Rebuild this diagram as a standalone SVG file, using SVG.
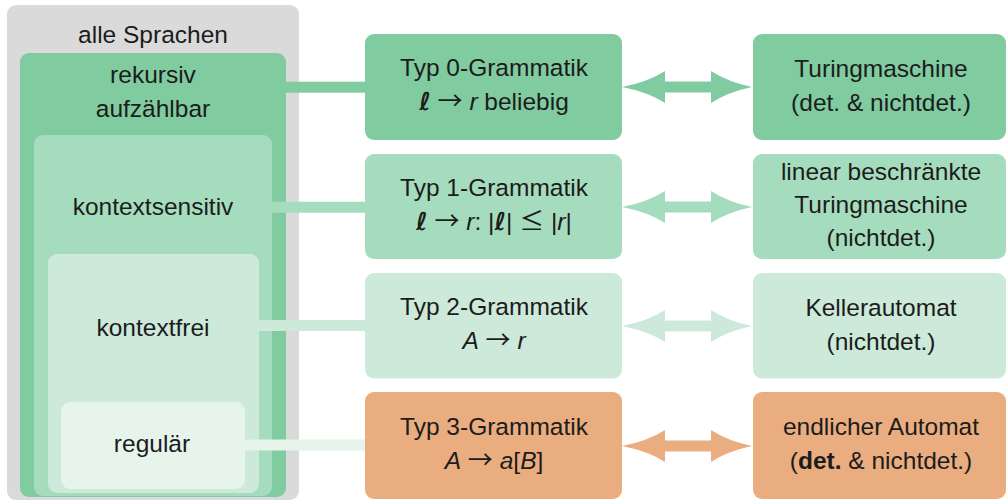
<svg xmlns="http://www.w3.org/2000/svg" width="1007" height="502" viewBox="0 0 1007 502">
<style>
text{font-family:"Liberation Sans",Arial,sans-serif;font-size:24.5px;fill:#1c1c1c;text-anchor:middle}
.i{font-style:italic}
.m{font-family:"Noto Sans CJK JP","DejaVu Sans",sans-serif;font-size:25px}
.l{font-family:"DejaVu Sans",sans-serif;font-style:italic;font-weight:bold}
.c0{fill:#80cba0}.c1{fill:#a6dcbe}.c2{fill:#cce9da}.c3{fill:#e6f4ec}.co{fill:#e9ad7f}.cg{fill:#dadada}
</style>
<rect width="1007" height="502" fill="#ffffff"/>
<g id="alle-sprachen">
<rect class="cg" x="7" y="5" width="292" height="495" rx="9"/>
<text x="153" y="43">alle Sprachen</text>
</g>
<g id="rekursiv-aufzaehlbar">
<rect class="c0" x="20" y="53" width="266" height="444" rx="9"/>
<text x="153" y="83">rekursiv</text>
<text x="153" y="117">aufzählbar</text>
</g>
<g id="kontextsensitiv">
<rect class="c1" x="34" y="135" width="238" height="361" rx="9"/>
<text x="153" y="215">kontextsensitiv</text>
</g>
<g id="kontextfrei">
<rect class="c2" x="48" y="254" width="211" height="239" rx="9"/>
<text x="153" y="336">kontextfrei</text>
</g>
<g id="regulaer">
<rect class="c3" x="61" y="402" width="184" height="87" rx="9"/>
<text x="152" y="452">regulär</text>
</g>
<g id="connectors">
<rect class="c0" x="285" y="81.7" width="81" height="11"/>
<rect class="c1" x="272" y="201.7" width="94" height="11"/>
<rect class="c2" x="259" y="320" width="107" height="11"/>
<rect class="c3" x="245" y="439.5" width="121" height="11"/>
<path class="c0" d="M622 87 Q648 82 665 71 L665 81.5 L711 81.5 L711 71 Q728 82 752 87 Q728 92 711 103 L711 92.5 L665 92.5 L665 103 Q648 92 622 87 Z"/>
<path class="c1" transform="translate(0,120)" d="M622 87 Q648 82 665 71 L665 81.5 L711 81.5 L711 71 Q728 82 752 87 Q728 92 711 103 L711 92.5 L665 92.5 L665 103 Q648 92 622 87 Z"/>
<path class="c2" transform="translate(0,239)" d="M622 87 Q648 82 665 71 L665 81.5 L711 81.5 L711 71 Q728 82 752 87 Q728 92 711 103 L711 92.5 L665 92.5 L665 103 Q648 92 622 87 Z"/>
<path class="co" transform="translate(0,359)" d="M622 87 Q648 82 665 71 L665 81.5 L711 81.5 L711 71 Q728 82 752 87 Q728 92 711 103 L711 92.5 L665 92.5 L665 103 Q648 92 622 87 Z"/>
</g>
<g id="typ0">
<rect class="c0" x="365" y="34" width="257" height="106" rx="9"/>
<text x="494" y="76">Typ 0-Grammatik</text>
<text x="494" y="110"><tspan class="l">ℓ</tspan> <tspan class="m">→</tspan> <tspan class="i">r</tspan> beliebig</text>
</g>
<g id="typ1">
<rect class="c1" x="365" y="154" width="257" height="105" rx="9"/>
<text x="494" y="195.5">Typ 1-Grammatik</text>
<text x="494" y="229.5"><tspan class="l">ℓ</tspan> <tspan class="m">→</tspan> <tspan class="i">r</tspan>: |<tspan class="l">ℓ</tspan>| <tspan class="m">≤</tspan> |<tspan class="i">r</tspan>|</text>
</g>
<g id="typ2">
<rect class="c2" x="365" y="273" width="257" height="105.5" rx="9"/>
<text x="494" y="315">Typ 2-Grammatik</text>
<text x="494" y="349"><tspan class="i">A</tspan> <tspan class="m">→</tspan> <tspan class="i">r</tspan></text>
</g>
<g id="typ3">
<rect class="co" x="365" y="392" width="257" height="107" rx="9"/>
<text x="494" y="435">Typ 3-Grammatik</text>
<text x="494" y="469"><tspan class="i">A</tspan> <tspan class="m">→</tspan> <tspan class="i">a</tspan>[<tspan class="i">B</tspan>]</text>
</g>
<g id="turingmaschine">
<rect class="c0" x="753" y="34" width="253" height="106" rx="9"/>
<text x="881" y="77">Turingmaschine</text>
<text x="881" y="111">(det. &amp; nichtdet.)</text>
</g>
<g id="lba">
<rect class="c1" x="753" y="154" width="253" height="105" rx="9"/>
<text x="881" y="180">linear beschränkte</text>
<text x="881" y="213">Turingmaschine</text>
<text x="881" y="246">(nichtdet.)</text>
</g>
<g id="kellerautomat">
<rect class="c2" x="753" y="273" width="253" height="105.5" rx="9"/>
<text x="881" y="316">Kellerautomat</text>
<text x="881" y="350">(nichtdet.)</text>
</g>
<g id="endlicher-automat">
<rect class="co" x="753" y="392" width="253" height="107" rx="9"/>
<text x="881" y="435">endlicher Automat</text>
<text x="881" y="469">(<tspan font-weight="bold">det.</tspan> &amp; nichtdet.)</text>
</g>
</svg>
